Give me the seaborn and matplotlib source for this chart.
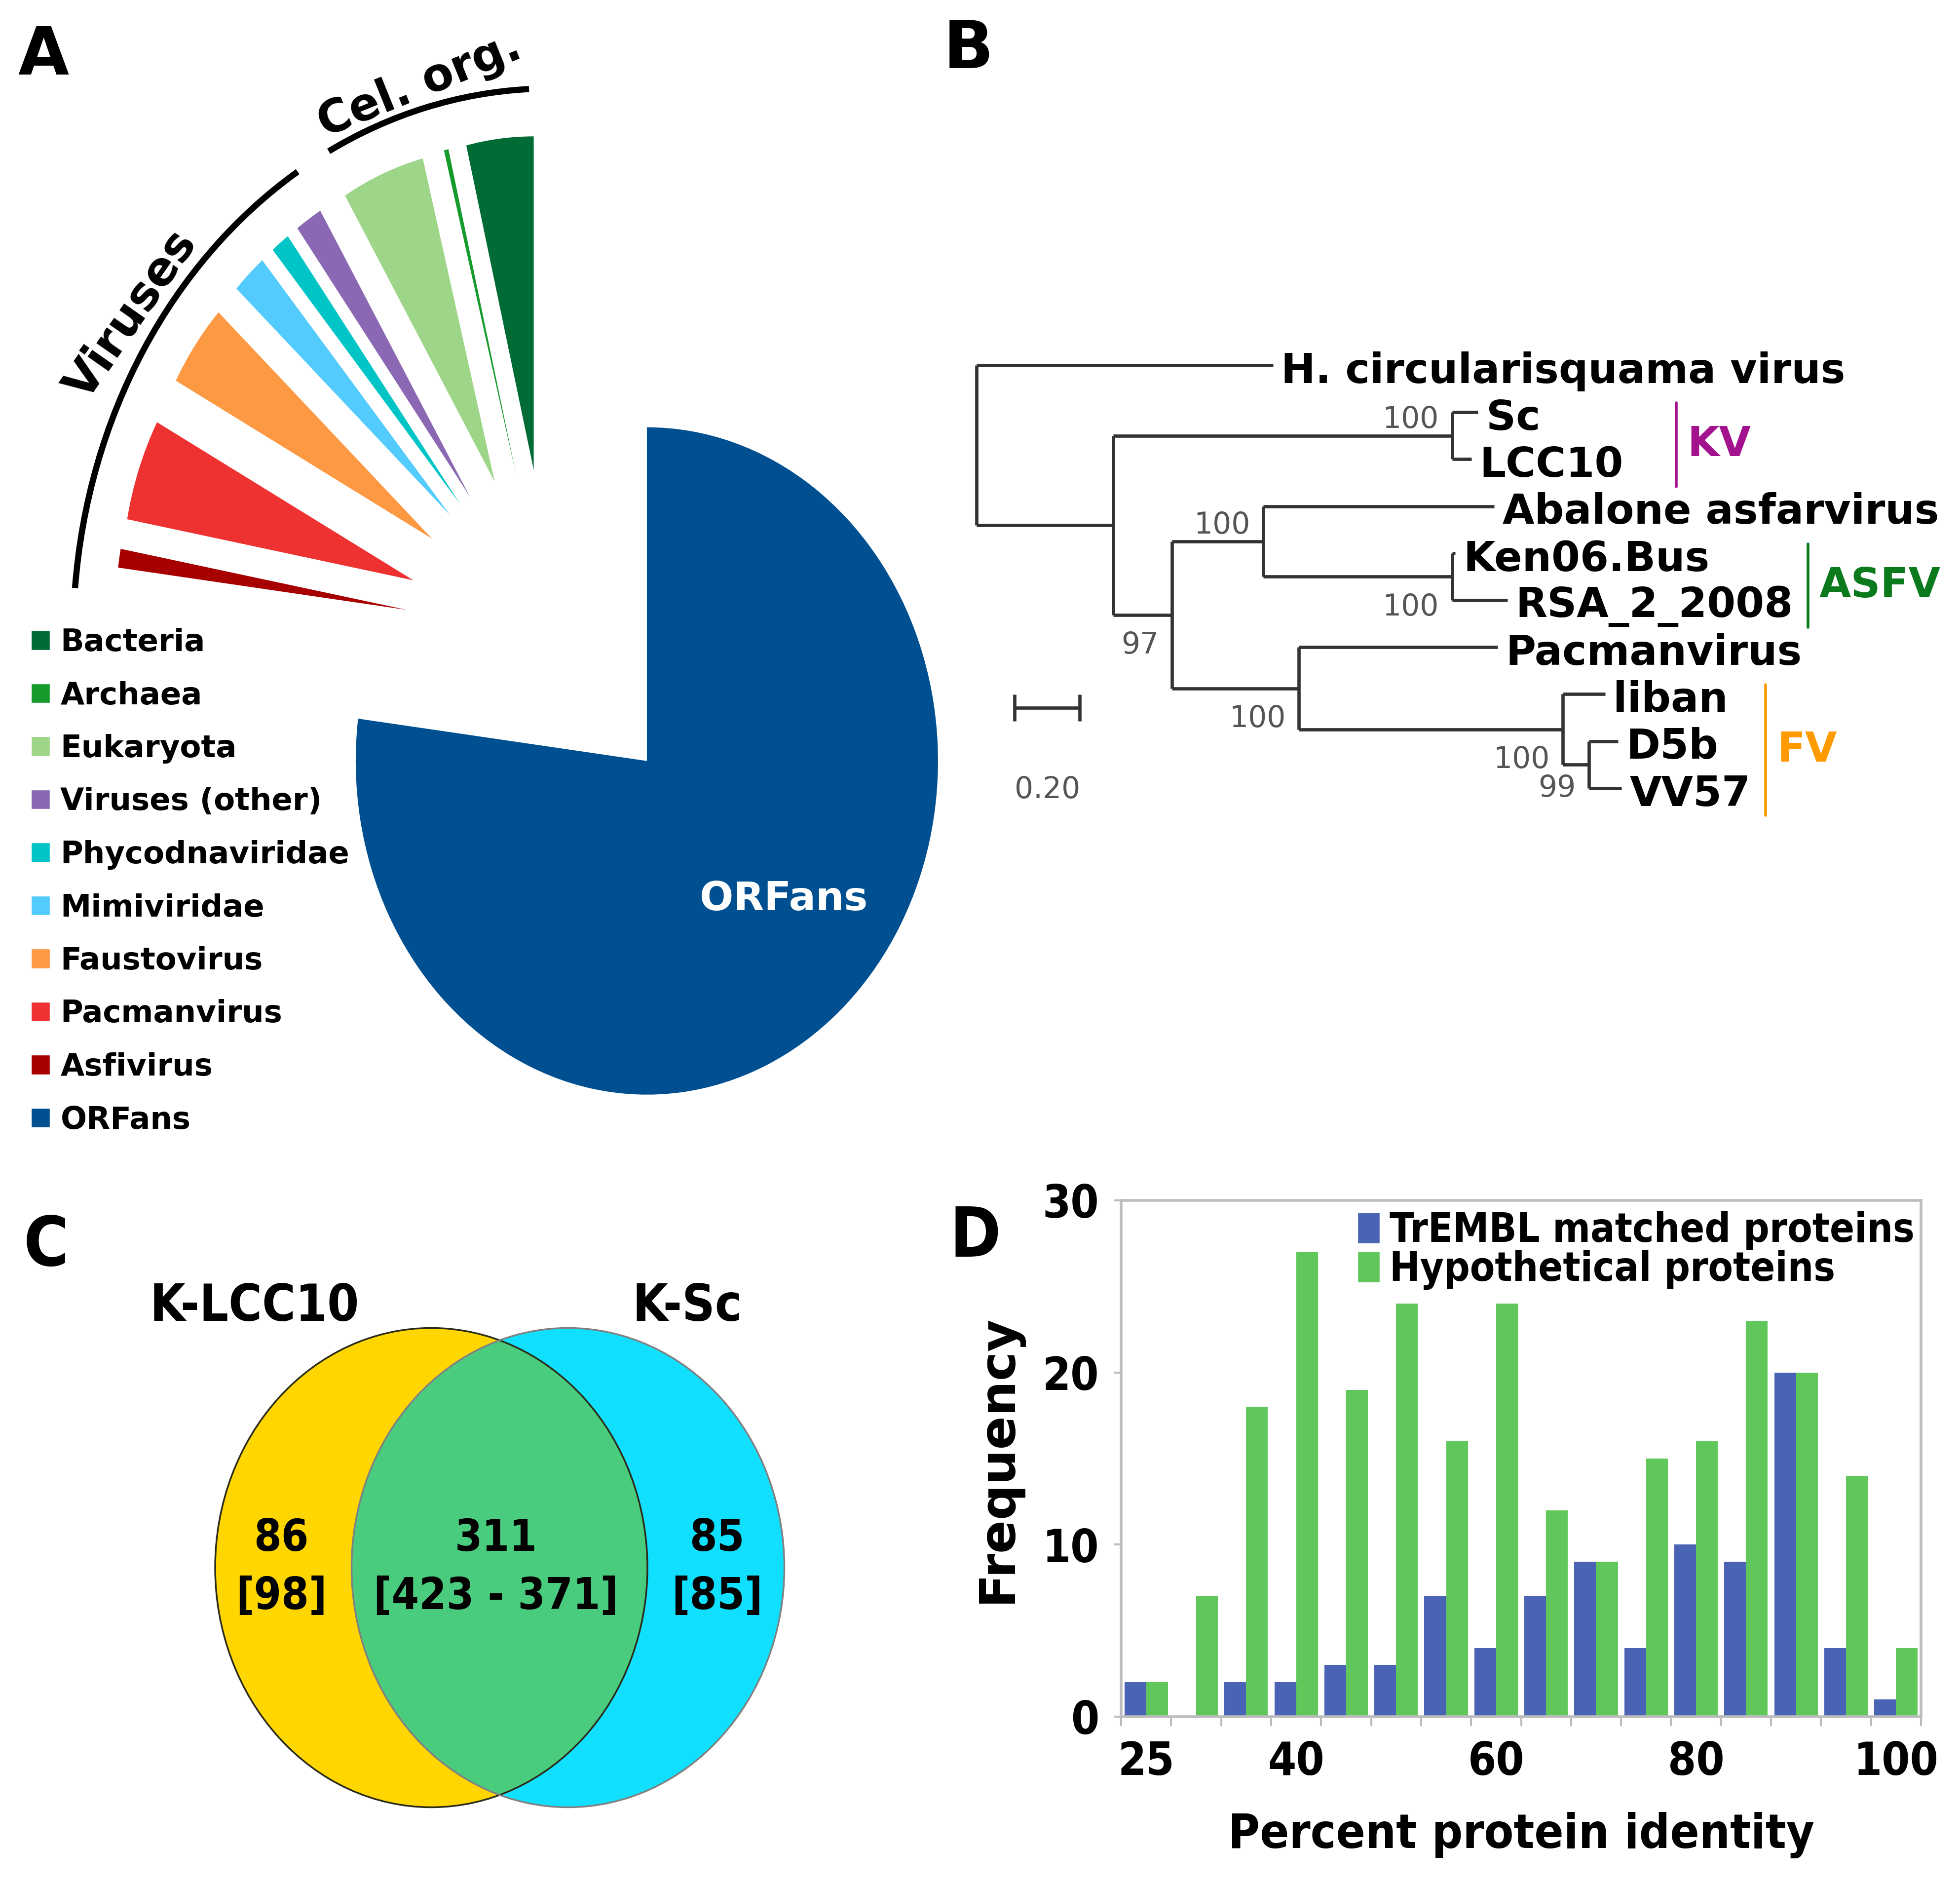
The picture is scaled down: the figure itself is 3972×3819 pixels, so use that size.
import os
import numpy as np
import pandas as pd
import matplotlib
matplotlib.use("Agg")
import matplotlib.pyplot as plt
from matplotlib import font_manager as fm
from matplotlib.patches import Ellipse, Arc, Patch
import seaborn as sns

# ---------------- data ----------------
# Panel A: origin of best BLAST hits (percent of proteins)
pie_labels = ["Bacteria", "Archaea", "Eukaryota", "Viruses (other)", "Phycodnaviridae",
              "Mimiviridae", "Faustovirus", "Pacmanvirus", "Asfivirus", "ORFans"]
pie_values = [3.7, 0.25, 4.6, 1.5, 1.05, 1.95, 4.0, 4.9, 0.9, 76.6]
pie_colors = ["#006b35", "#159a2c", "#9dd589", "#8b68b3", "#00c4c6",
              "#53cbfd", "#fd9843", "#ee3131", "#a60000", "#004f90"]

# Panel B: phylogeny (node, parent, cumulative branch length)
tree_nodes = ["root", "H. circularisquama virus", "nA", "nKV", "Sc", "LCC10", "nB", "nC",
              "Abalone asfarvirus", "nASFV", "Ken06.Bus", "RSA_2_2008", "nD", "Pacmanvirus",
              "nFV", "liban", "nDV", "D5b", "VV57"]
tree_parent = [None, "root", "root", "nA", "nKV", "nKV", "nA", "nB", "nC", "nC", "nASFV",
               "nASFV", "nB", "nD", "nD", "nFV", "nFV", "nDV", "nDV"]
tree_depth = [0.0, 0.91, 0.42, 1.46, 1.54, 1.52, 0.60, 0.88, 1.59, 1.46, 1.47, 1.63,
              0.99, 1.60, 1.80, 1.93, 1.88, 1.97, 1.98]
bootstrap_nodes = ["nKV", "nC", "nASFV", "nB", "nD", "nFV", "nDV"]
bootstrap_values = ["100", "100", "100", "97", "100", "100", "99"]
clade_names = ["KV", "ASFV", "FV"]
clade_first = ["Sc", "Ken06.Bus", "liban"]
clade_last = ["LCC10", "RSA_2_2008", "VV57"]
clade_colors = ["#a3128e", "#0b7a1c", "#ff9a00"]
scale_length = 0.20

# Panel C: shared genes
venn_sets = ["K-LCC10", "K-Sc"]
venn_counts = ["86", "311", "85"]
venn_ranges = ["[98]", "[423 - 371]", "[85]"]

# Panel D: percent identity histogram
identity_bins = ["25", "30", "35", "40", "45", "50", "55", "60", "65", "70",
                 "75", "80", "85", "90", "95", "100"]
trembl_counts = [2, 0, 2, 2, 3, 3, 7, 4, 7, 9, 4, 10, 9, 20, 4, 1]
hypothetical_counts = [2, 7, 18, 27, 19, 24, 16, 24, 12, 9, 15, 16, 23, 20, 14, 4]
shown_bins = ["25", "40", "60", "80", "100"]

# ---------------- style ----------------
sns.set_theme(style="white")
plt.rcParams["font.family"] = ["DejaVu Sans"]
plt.rcParams["text.color"] = "black"
plt.rcParams["axes.labelcolor"] = "black"
plt.rcParams["xtick.color"] = "black"
plt.rcParams["ytick.color"] = "black"

cond_path = None
for f in fm.fontManager.ttflist:
    base = os.path.basename(f.fname)
    if "DejaVu" in base and "Condensed-Bold" in base and "Oblique" not in base:
        cond_path = f.fname
        break
if cond_path is None:
    for f in fm.fontManager.ttflist:
        base = os.path.basename(f.fname)
        if "Narrow-Bold" in base and "Italic" not in base:
            cond_path = f.fname
            break


def cond(size):
    if cond_path:
        return fm.FontProperties(fname=cond_path, size=size)
    return fm.FontProperties(family="DejaVu Sans", weight="bold", size=size)


W, H = 3972, 3819
fig = plt.figure(figsize=(W / 100, H / 100), dpi=100)


def rect(x0, y0, x1, y1):
    return [x0 / W, 1 - y1 / H, (x1 - x0) / W, (y1 - y0) / H]


# ---------------- panel A ----------------
cx, cy, rx, ry = 1116, 1288, 590, 676
ax_a = fig.add_axes(rect(0, 0, 1950, 2350))
order = [9, 8, 7, 6, 5, 4, 3, 2, 1, 0]
ax_a.pie([pie_values[i] for i in order], colors=[pie_colors[i] for i in order],
         startangle=90, counterclock=False, explode=[0.5] * len(order),
         wedgeprops=dict(linewidth=0))
ax_a.set_aspect("auto")
ax_a.set_xlim(-cx / rx, (1950 - cx) / rx)
ax_a.set_ylim((cy - 2350) / ry, cy / ry)
ax_a.axis("off")

ax_a.add_patch(Arc((0, 0), 3.28, 3.28, theta1=122, theta2=175, lw=9, color="black"))
ax_a.add_patch(Arc((0, 0), 3.28, 3.28, theta1=92.6, theta2=117.7, lw=9, color="black"))
ax_a.text(-1.44, 0.96, "Viruses", rotation=55, ha="center", va="center",
          fontsize=68, weight="bold")
ax_a.text(-0.45, 1.65, "Cel. org.", rotation=22, ha="center", va="center",
          fontsize=66, weight="bold")
ax_a.text(0.80, -0.79, "ORFans", color="white", ha="center", va="center",
          fontsize=58, weight="bold")

fig.legend(handles=[Patch(facecolor=c, label=l) for l, c in zip(pie_labels, pie_colors)],
           loc="upper left", bbox_to_anchor=(63 / W, 1 - 1272 / H), frameon=False,
           prop=dict(weight="bold", size=45), handlelength=0.6, handleheight=0.6,
           handletextpad=0.35, labelspacing=0.76, borderpad=0, borderaxespad=0)

# ---------------- panel B ----------------
ax_b = fig.add_axes(rect(1900, 650, 3972, 1700))
ax_b.set_xlim((1900 - 1979) / 660, (3972 - 1979) / 660)
ax_b.set_ylim((1700 - 740) / 95.2, (650 - 740) / 95.2)
ax_b.axis("off")

depth = dict(zip(tree_nodes, tree_depth))
children = {n: [] for n in tree_nodes}
for n, p in zip(tree_nodes, tree_parent):
    if p is not None:
        children[p].append(n)
ypos = {}
leaf_count = [0]


def place(n):
    if not children[n]:
        ypos[n] = leaf_count[0]
        leaf_count[0] += 1
    else:
        for c in children[n]:
            place(c)
        ypos[n] = np.mean([ypos[c] for c in children[n]])


place("root")
line_kw = dict(color="#333333", lw=4.8, solid_capstyle="butt")
for n, p in zip(tree_nodes, tree_parent):
    if p is not None:
        ax_b.plot([depth[p], depth[n]], [ypos[n], ypos[n]], **line_kw)
    if children[n]:
        ys = [ypos[c] for c in children[n]]
        ax_b.plot([depth[n], depth[n]], [min(ys), max(ys)], **line_kw)
    else:
        ax_b.text(depth[n] + 0.025, ypos[n] + 0.13, n, ha="left", va="center",
                  fontsize=60, weight="bold")

label_dy = {"nKV": -0.34, "nC": -0.34, "nDV": 0.51}
for n, v in zip(bootstrap_nodes, bootstrap_values):
    ax_b.text(depth[n] - 0.04, ypos[n] + label_dy.get(n, 0.65), v, ha="right",
              va="center", fontsize=43, color="#555555")

clade_x = [2.148, 2.553, 2.423]
for name, a, b, col, x in zip(clade_names, clade_first, clade_last, clade_colors, clade_x):
    y0, y1 = ypos[a] - 0.2, ypos[b] + 0.58
    ax_b.plot([x, x], [y0, y1], color=col, lw=4)
    ax_b.text(x + 0.035, (y0 + y1) / 2, name, color=col, ha="left", va="center",
              fontsize=60, weight="bold")

sb_x, sb_y = 0.117, 7.29
ax_b.plot([sb_x, sb_x + scale_length], [sb_y, sb_y], **line_kw)
ax_b.plot([sb_x, sb_x], [sb_y - 0.28, sb_y + 0.28], **line_kw)
ax_b.plot([sb_x + scale_length, sb_x + scale_length], [sb_y - 0.28, sb_y + 0.28], **line_kw)
ax_b.text(sb_x + scale_length / 2, 9.04, f"{scale_length:.2f}", ha="center", va="center",
          fontsize=43, color="#555555")

# ---------------- panel C ----------------
ax_c = fig.add_axes(rect(0, 2350, 1950, 3819))
ax_c.set_xlim(0, 1950)
ax_c.set_ylim(3819, 2350)
ax_c.axis("off")
left = Ellipse((874, 3176), 876, 971, facecolor="#ffd600", edgecolor="none")
right = Ellipse((1151, 3176), 877, 971, facecolor="#10e0fe", edgecolor="none")
ax_c.add_patch(left)
ax_c.add_patch(right)
inter = Ellipse((874, 3176), 876, 971, facecolor="#4acc7e", edgecolor="none")
ax_c.add_patch(inter)
inter.set_clip_path(right)
ax_c.add_patch(Ellipse((874, 3176), 876, 971, facecolor="none", edgecolor="#2b2b1a", lw=2.5))
ax_c.add_patch(Ellipse((1151, 3176), 877, 971, facecolor="none", edgecolor="#808080", lw=2.5))
for x, c, r in zip([570, 1005, 1453], venn_counts, venn_ranges):
    ax_c.text(x, 3118, c, ha="center", va="center", fontproperties=cond(64))
    ax_c.text(x, 3236, r, ha="center", va="center", fontproperties=cond(64))
for x, s in zip([516, 1393], venn_sets):
    ax_c.text(x, 2648, s, ha="center", va="center", fontproperties=cond(74))

# ---------------- panel D ----------------
ax_d = fig.add_axes(rect(2272, 2432, 3893, 3478))
df = pd.DataFrame({
    "identity": identity_bins * 2,
    "count": trembl_counts + hypothetical_counts,
    "type": ["TrEMBL matched proteins"] * len(identity_bins)
            + ["Hypothetical proteins"] * len(identity_bins),
})
sns.barplot(data=df, x="identity", y="count", hue="type", order=identity_bins,
            hue_order=["TrEMBL matched proteins", "Hypothetical proteins"],
            palette=["#4a63b5", "#60c75a"], width=0.87, saturation=1,
            linewidth=0, ax=ax_d)
ax_d.set_xlim(-0.5, len(identity_bins) - 0.5)
ax_d.set_ylim(0, 30)
ax_d.set_yticks([0, 10, 20, 30])
ax_d.set_xticks([identity_bins.index(b) for b in shown_bins], shown_bins)
ax_d.set_xticks(np.arange(-0.5, len(identity_bins), 1), minor=True)
ax_d.tick_params(axis="x", which="major", length=0, pad=34)
ax_d.tick_params(axis="x", which="minor", bottom=True, length=14, width=3,
                 color="#bdbdbd", direction="out")
ax_d.tick_params(axis="y", left=True, length=10, width=3, color="#bdbdbd", pad=22)
for lab in ax_d.get_xticklabels() + ax_d.get_yticklabels():
    lab.set_fontproperties(cond(66))
for sp in ax_d.spines.values():
    sp.set_visible(True)
    sp.set_color("#bdbdbd")
    sp.set_linewidth(4)
ax_d.set_xlabel("Percent protein identity", fontproperties=cond(70), labelpad=40)
ax_d.set_ylabel("Frequency", fontsize=72, weight="bold", labelpad=30)
ax_d.legend(handles=[Patch(facecolor="#4a63b5"), Patch(facecolor="#60c75a")],
            labels=["TrEMBL matched proteins", "Hypothetical proteins"],
            loc="upper right", bbox_to_anchor=(0.997, 0.987), frameon=False,
            prop=cond(59), handlelength=0.55, handleheight=0.8, handletextpad=0.25,
            labelspacing=0.0, borderpad=0.0, borderaxespad=0.1)

# ---------------- panel letters ----------------
fig.text(88 / W, 1 - 114 / H, "A", ha="center", va="center", fontsize=96, weight="bold")
fig.text(1963 / W, 1 - 101 / H, "B", ha="center", va="center", fontsize=96, weight="bold")
fig.text(94 / W, 1 - 2525 / H, "C", ha="center", va="center", fontproperties=cond(100))
fig.text(1976 / W, 1 - 2508 / H, "D", ha="center", va="center", fontproperties=cond(100))

fig.savefig("out.png", dpi=100, facecolor="white")
